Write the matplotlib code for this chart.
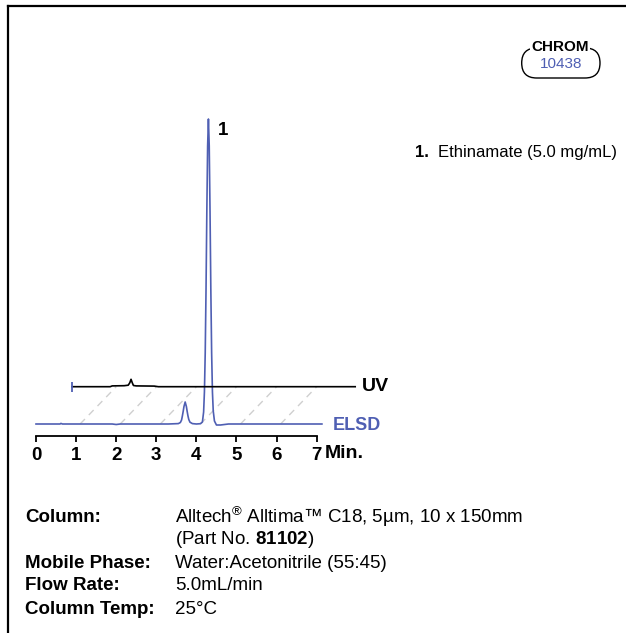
import matplotlib
matplotlib.use('Agg')
import matplotlib.pyplot as plt
from matplotlib import font_manager
from matplotlib.patches import FancyBboxPatch
from matplotlib.lines import Line2D
from matplotlib.transforms import IdentityTransform

# pick a narrow sans if there is one
names = {f.name for f in font_manager.fontManager.ttflist}
fam = 'DejaVu Sans'
for cand in ['Liberation Sans Narrow', 'DejaVu Sans Condensed', 'Liberation Sans']:
    if cand in names:
        fam = cand
        break
plt.rcParams['font.family'] = [fam, 'DejaVu Sans']
plt.rcParams['mathtext.fontset'] = 'custom'
plt.rcParams['mathtext.rm'] = fam
plt.rcParams['mathtext.bf'] = fam + ':bold'

BLUE = '#4f5fb3'

# ELSD trace (time in min, signal in detector units above baseline)
elsd_t = [0.0, 0.60, 0.62, 0.66, 1.90, 2.00, 2.10, 3.30, 3.55, 3.60, 3.63, 3.65, 3.67,
          3.69, 3.72, 3.75, 3.77, 3.79, 3.81, 3.84, 3.90, 4.00, 4.10, 4.15, 4.18,
          4.20, 4.22, 4.24, 4.26, 4.28, 4.30, 4.32, 4.34, 4.36, 4.38, 4.40, 4.42,
          4.45, 4.50, 4.60, 4.80, 7.13]
elsd_s = [0, 0, 0.6, 0, 0, -0.5, 0, 0, 0.4, 1.5, 4, 8, 12.5, 17.5, 22, 17.5, 12.5,
          8, 4.5, 1.8, 0.4, 0, 0.3, 2, 12, 32, 71, 134, 212, 278, 305, 278, 212,
          134, 71, 32, 13, 3, -1, -1, 0, 0]

# UV trace (own time axis, drawn offset up/right)
uv_t = [0.0, 0.95, 1.00, 1.30, 1.40, 1.44, 1.47, 1.50, 1.53, 1.60, 2.05, 2.15, 7.06]
uv_s = [0, 0, 0.8, 1.0, 1.5, 4.0, 7.4, 4.0, 1.2, 0.8, 0.6, 0, 0]
uv_dx = 0.9
uv_dy = 37.3

grid_t = [1.1, 2.1, 3.1, 4.1, 5.1, 6.1]
tick_vals = [0, 1, 2, 3, 4, 5, 6, 7]

peak_t = 4.30
peak_h = 305
peak_label = '1'
compound = 'Ethinamate (5.0 mg/mL)'

info_labels = ['Column:', '', 'Mobile Phase:', 'Flow Rate:', 'Column Temp:']
info_values = ['Alltech$^{®}$ Alltima™ C18, 5µm, 10 x 150mm',
               r'(Part No. $\mathbf{81102}$)',
               'Water:Acetonitrile (55:45)',
               '5.0mL/min',
               '25°C']
info_y = [517, 540, 563, 586, 609]

W, H = 626, 633
fig = plt.figure(figsize=(W / 100, H / 100), dpi=100)
ax = fig.add_axes([36 / W, 197 / H, 280.7 / W, 436 / H])
ax.set_xlim(0, 7)
ax.set_ylim(-12, 424)
ax.patch.set_visible(False)
for sp in ['top', 'right', 'left']:
    ax.spines[sp].set_visible(False)
ax.spines['bottom'].set_linewidth(1.3)
ax.set_yticks([])
ax.set_xticks(tick_vals)
ax.set_xticklabels([str(v) for v in tick_vals], fontsize=13.5, fontweight='bold')
ax.tick_params(axis='x', direction='out', length=4, width=1.3, pad=4)

# perspective grid between the two traces
for g in grid_t:
    ax.plot([g, g + uv_dx], [0, uv_dy], color='#cfcfcf', lw=1, ls=(0, (5, 4)),
            clip_on=False, zorder=1)

ax.plot(elsd_t, elsd_s, color=BLUE, lw=1.2, clip_on=False, zorder=3)
ax.plot([t + uv_dx for t in uv_t], [s + uv_dy for s in uv_s], color='black', lw=1.2,
        clip_on=False, zorder=4)
ax.plot(uv_t[0] + uv_dx, uv_dy, marker='|', ms=7, mew=1.3, color=BLUE,
        clip_on=False, zorder=5)

ax.text(8.13, uv_dy, 'UV', fontsize=14, fontweight='bold', va='center', ha='left')
ax.text(7.41, -2, 'ELSD', fontsize=13, fontweight='bold', color=BLUE, va='center', ha='left')
ax.text(7.2, -29.5, 'Min.', fontsize=14, fontweight='bold', va='center', ha='left')
ax.annotate(peak_label, xy=(peak_t, peak_h), xytext=(7, -2), textcoords='offset points',
            fontsize=13.5, fontweight='bold', va='top', ha='left')

# peak list
fig.text(415 / W, 1 - 153 / H, peak_label + '.', fontsize=12, fontweight='bold', va='center')
fig.text(438 / W, 1 - 153 / H, compound, fontsize=12, va='center')

# CHROM badge
badge = FancyBboxPatch((521.7, H - 78), 78.3, 30, boxstyle='round,pad=0,rounding_size=15',
                       transform=IdentityTransform(), fc='none', ec='black', lw=1)
fig.add_artist(badge)
fig.text(560 / W, 1 - 46.7 / H, 'CHROM', fontsize=11, fontweight='bold', ha='center',
         va='center', bbox=dict(fc='white', ec='none', pad=1))
fig.text(561 / W, 1 - 64.3 / H, '10438', fontsize=11, color=BLUE, ha='center', va='center')

# conditions
for lab, val, y in zip(info_labels, info_values, info_y):
    fig.text(25 / W, 1 - y / H, lab, fontsize=13.5, fontweight='bold', va='center')
    fig.text(175 / W, 1 - y / H, val, fontsize=13.5, va='center')

# frame (left and top only)
fig.add_artist(Line2D([8 / W, 8 / W], [0, 1 - 6 / H], color='black', lw=1.6))
fig.add_artist(Line2D([8 / W, 1], [1 - 6 / H, 1 - 6 / H], color='black', lw=1.6))

fig.savefig('out.png', dpi=100)
